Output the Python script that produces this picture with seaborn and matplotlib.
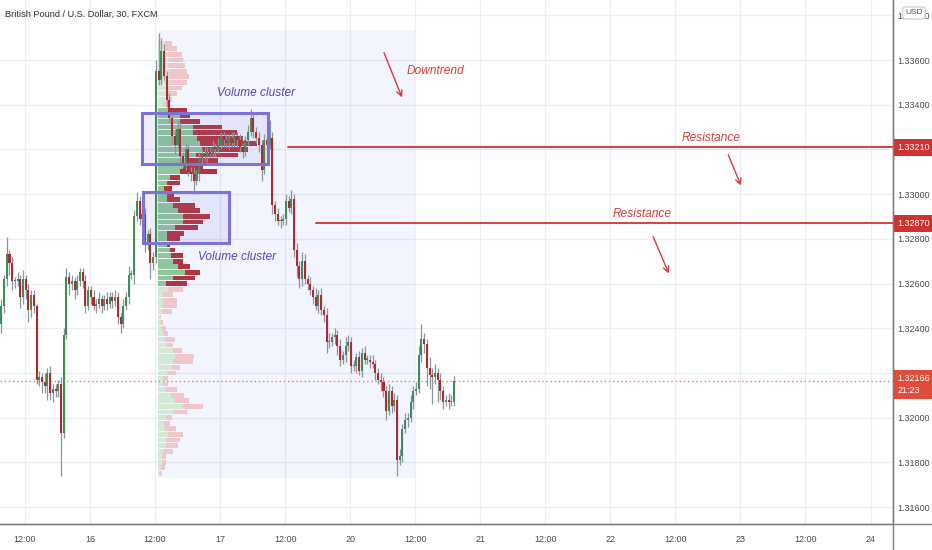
import numpy as np
import pandas as pd
import matplotlib
matplotlib.use("Agg")
import matplotlib.pyplot as plt
import matplotlib.transforms as mtransforms
from matplotlib import font_manager
from matplotlib.lines import Line2D
from matplotlib.patches import Rectangle
import seaborn as sns

TITLE = "British Pound / U.S. Dollar, 30, FXCM"
PIP = 0.0001

# 30 minute candles (open of each bar = previous close)
first_open = 1.3242
closes = [
    1.3250, 1.3262, 1.3273, 1.3269, 1.3261, 1.3261, 1.3262, 1.3254, 1.3262, 1.3257, 1.3248, 1.3255,
    1.3250, 1.3217, 1.3218, 1.3216, 1.3214, 1.3220, 1.3211, 1.3213, 1.3212, 1.3215, 1.3193, 1.3237,
    1.3263, 1.3260, 1.3261, 1.3257, 1.3261, 1.3265, 1.3261, 1.3250, 1.3257, 1.3254, 1.3250, 1.3251,
    1.3253, 1.3250, 1.3253, 1.3251, 1.3254, 1.3252, 1.3254, 1.3245, 1.3242, 1.3250, 1.3254, 1.3264,
    1.3264, 1.3290, 1.3297, 1.3289, 1.3291, 1.3278, 1.3282, 1.3269, 1.3272, 1.3355, 1.3351, 1.3364,
    1.3353, 1.3342, 1.3334, 1.3326, 1.3322, 1.3329, 1.3317, 1.3314, 1.3320, 1.3310, 1.3309, 1.3306,
    1.3309, 1.3316, 1.3318, 1.3317, 1.3319, 1.3318, 1.3321, 1.3320, 1.3322, 1.3326, 1.3324, 1.3323,
    1.3325, 1.3323, 1.3326, 1.3324, 1.3321, 1.3319, 1.3324, 1.3328, 1.3334, 1.3328, 1.3325, 1.3322,
    1.3311, 1.3324, 1.3322, 1.3325, 1.3295, 1.3291, 1.3288, 1.3288, 1.3289, 1.3297, 1.3294, 1.3298,
    1.3275, 1.3268, 1.3262, 1.3270, 1.3262, 1.3260, 1.3257, 1.3254, 1.3250, 1.3255, 1.3248, 1.3246,
    1.3234, 1.3234, 1.3236, 1.3237, 1.3232, 1.3226, 1.3228, 1.3232, 1.3234, 1.3223, 1.3223, 1.3227,
    1.3221, 1.3229, 1.3226, 1.3226, 1.3225, 1.3224, 1.3220, 1.3217, 1.3216, 1.3212, 1.3203, 1.3212,
    1.3205, 1.3208, 1.3181, 1.3183, 1.3195, 1.3199, 1.3200, 1.3207, 1.3212, 1.3213, 1.3228, 1.3235,
    1.3233, 1.3222, 1.3219, 1.3218, 1.3220, 1.3217, 1.3212, 1.3207, 1.3208, 1.3207, 1.3207, 1.32166,
]
# wick lengths in pips above / below the body
wick_up = [
    3, 2, 8, 2, 3, 2, 3, 2, 4, 2, 3, 2,
    2, 1, 3, 2, 4, 2, 3, 2, 2, 2, 3, 3,
    4, 2, 3, 2, 3, 2, 2, 3, 2, 2, 3, 2,
    3, 2, 2, 3, 2, 2, 3, 2, 2, 3, 2, 4,
    2, 3, 4, 2, 5, 3, 2, 3, 2, 5, 17, 6,
    3, 2, 3, 2, 3, 4, 3, 2, 3, 2, 2, 3,
    2, 3, 2, 3, 2, 2, 3, 2, 3, 2, 2, 3,
    2, 3, 2, 2, 3, 2, 2, 3, 4, 2, 2, 3,
    2, 3, 2, 8, 3, 2, 3, 2, 2, 3, 2, 4,
    2, 3, 2, 4, 3, 2, 3, 2, 4, 2, 3, 2,
    3, 4, 2, 3, 2, 3, 2, 4, 3, 2, 3, 2,
    3, 2, 3, 2, 2, 3, 2, 2, 3, 2, 2, 3,
    2, 3, 2, 3, 2, 3, 2, 3, 2, 3, 4, 7,
    3, 2, 5, 3, 4, 2, 3, 2, 2, 3, 3, 2,
]
wick_dn = [
    4, 3, 3, 5, 4, 3, 2, 5, 3, 4, 5, 3,
    3, 2, 3, 5, 3, 6, 3, 4, 3, 3, 19, 2,
    2, 5, 3, 4, 2, 2, 3, 3, 2, 3, 2, 3,
    2, 3, 2, 3, 2, 3, 2, 3, 4, 2, 2, 3,
    2, 4, 2, 3, 2, 4, 3, 7, 3, 3, 2, 2,
    2, 3, 2, 3, 4, 2, 3, 2, 3, 2, 3, 6,
    2, 3, 2, 2, 3, 2, 2, 3, 2, 2, 3, 2,
    3, 2, 2, 3, 2, 3, 2, 2, 2, 3, 2, 3,
    5, 2, 3, 2, 4, 3, 2, 3, 2, 3, 2, 3,
    3, 5, 4, 3, 2, 3, 2, 3, 2, 3, 2, 3,
    5, 3, 2, 3, 4, 3, 2, 3, 2, 3, 2, 3,
    2, 3, 2, 2, 3, 2, 3, 2, 4, 3, 4, 2,
    3, 2, 7, 2, 3, 2, 3, 2, 3, 2, 2, 3,
    4, 8, 6, 12, 3, 10, 4, 3, 2, 3, 2, 2,
]

# fixed range volume profile, top row first, one row every 0.00025
profile_top = 1.33675
profile_step = 0.00025
vol_up = [7, 8, 9, 10, 10, 11, 12, 11, 10, 9, 8, 5,
          12, 22, 22, 35, 35, 39, 42, 44, 38, 28, 25, 22,
          12, 9, 6, 9, 9, 15, 20, 25, 25, 17, 9, 9,
          9, 12, 13, 15, 20, 27, 15, 8, 10, 5, 5, 5,
          4, 2, 3, 4, 5, 7, 8, 15, 17, 15, 14, 9,
          5, 5, 8, 13, 17, 25, 15, 8, 6, 7, 10, 8,
          8, 5, 4, 4, 3, 2]
vol_down = [7, 11, 15, 15, 17, 18, 19, 18, 14, 10, 6, 4,
            17, 10, 20, 29, 44, 46, 57, 46, 42, 32, 20, 37,
            10, 13, 8, 7, 13, 22, 22, 27, 20, 23, 17, 13,
            3, 5, 12, 10, 12, 15, 22, 21, 15, 10, 14, 14,
            10, 1, 2, 4, 5, 10, 7, 9, 19, 20, 8, 9,
            5, 5, 11, 13, 14, 20, 14, 6, 6, 11, 15, 14,
            12, 10, 4, 4, 4, 2]
value_area = (1.32600, 1.33375)
profile_start = 57.8          # bar where the profile range starts
profile_end = 152.6
profile_range = (1.31730, 1.33734)

# drawings: (bar left, bar right, price low, price high)
clusters = [(51.9, 98.4, 1.33135, 1.33363), (52.3, 84.0, 1.32781, 1.33010)]
resistance = [1.33210, 1.32870]
resistance_start = [105.8, 116.1]
last_price = 1.32166
countdown = "21:23"

price_ticks = [1.316, 1.318, 1.320, 1.322, 1.324, 1.326, 1.328, 1.330, 1.332, 1.334, 1.336, 1.338]
time_labels = ["12:00", "16", "12:00", "17", "12:00", "20", "12:00", "21",
               "12:00", "22", "12:00", "23", "12:00", "24"]

RED = "#b0292f"
GREEN = "#3c8c5c"
WICK = "#8e949c"
ANNOT_RED = "#d63b3b"
PURPLE = "#7d72d8"
PURPLE_TXT = "#5646b8"

sns.set_theme(style="white")
avail = {f.name for f in font_manager.fontManager.ttflist}
NARROW = next((f for f in ["Liberation Sans Narrow", "DejaVu Sans Condensed", "Liberation Sans"]
               if f in avail), "DejaVu Sans")
plt.rcParams["font.family"] = [NARROW, "DejaVu Sans"]

# candle table
df = pd.DataFrame({"close": closes})
df["open"] = [first_open] + closes[:-1]
df["high"] = df[["open", "close"]].max(axis=1) + np.array(wick_up) * PIP
df["low"] = df[["open", "close"]].min(axis=1) - np.array(wick_dn) * PIP
df["bar"] = np.arange(len(df))
rising = df["close"] >= df["open"]

fig = plt.figure(figsize=(9.32, 5.5), dpi=100)
ax = fig.add_axes([0, 26 / 550, 893 / 932, 524 / 550])
ax.set_xlim(-0.5, 329.0)
ax.set_ylim(1.31524, 1.338685)

# grid
xt = [8.7 + 24 * i for i in range(len(time_labels))]
ax.set_xticks(xt)
ax.set_xticklabels(time_labels)
ax.yaxis.tick_right()
ax.set_yticks(price_ticks)
# the 1.33200 label sits under the resistance price tag, as on the chart
ax.set_yticklabels(["" if abs(p - 1.332) < 1e-9 else f"{p:.5f}" for p in price_ticks])
ax.grid(True, color="#eceef1", lw=0.9, zorder=0)
ax.tick_params(axis="both", length=0, labelsize=6.5, labelcolor="#4a4a4a")
ax.tick_params(axis="x", pad=8)
ax.tick_params(axis="y", pad=3)
for s in ["left", "top"]:
    ax.spines[s].set_visible(False)
for s in ["right", "bottom"]:
    ax.spines[s].set_color("#7b7e86")
    ax.spines[s].set_linewidth(1)

# profile range background
ax.add_patch(Rectangle((profile_start, profile_range[0]), profile_end - profile_start,
                       profile_range[1] - profile_range[0], color="#2962ff", alpha=0.06,
                       lw=0, zorder=1))

# volume profile rows
levels = profile_top - profile_step * np.arange(len(vol_up))
prof = pd.DataFrame({"level": levels, "up": vol_up, "down": vol_down})
prof["inside"] = (prof["level"] >= value_area[0] - 1e-9) & (prof["level"] <= value_area[1] + 1e-9)
px_per_bar = 2.71
up_w = prof["up"] / px_per_bar
dn_w = prof["down"] / px_per_bar
ax.barh(prof["level"], up_w, left=profile_start, height=profile_step * 0.86,
        color=np.where(prof["inside"], "#8dc79a", "#d2e9d6"), lw=0, zorder=2)
ax.barh(prof["level"], dn_w, left=profile_start + up_w, height=profile_step * 0.86,
        color=np.where(prof["inside"], "#b3343d", "#f1c6ca"), lw=0, zorder=2)

# volume cluster boxes
for x0, x1, y0, y1 in clusters:
    ax.add_patch(Rectangle((x0, y0), x1 - x0, y1 - y0, facecolor=PURPLE, alpha=0.12,
                           lw=0, zorder=3))
    ax.add_patch(Rectangle((x0, y0), x1 - x0, y1 - y0, facecolor="none", edgecolor=PURPLE,
                           lw=2.2, zorder=6))

# candles
ax.vlines(df["bar"], df["low"], df["high"], color=WICK, lw=0.9, zorder=4)
body = (df["close"] - df["open"]).abs().clip(lower=0.00005)
ax.bar(df["bar"], body, bottom=df[["open", "close"]].min(axis=1), width=0.75,
       color=np.where(rising, GREEN, RED), lw=0, zorder=5)

# current price and resistance lines
ax.axhline(last_price, color="#e67b7b", lw=1, ls=(0, (1, 2)), zorder=3)
for lvl, start in zip(resistance, resistance_start):
    ax.plot([start, 329.0], [lvl, lvl], color="#d8403c", lw=1.4, zorder=6)

# text notes
note = dict(style="italic", fontsize=8.6, va="center", zorder=7)
ax.text(94, 1.33452, "Volume cluster", color=PURPLE_TXT, ha="center", **note)
ax.text(87, 1.32719, "Volume cluster", color=PURPLE_TXT, ha="center", **note)
ax.text(149.7, 1.33551, "Downtrend", color=ANNOT_RED, ha="left", **note)
ax.text(261.9, 1.33251, "Resistance", color=ANNOT_RED, ha="center", **note)
ax.text(236.4, 1.32911, "Resistance", color=ANNOT_RED, ha="center", **note)
arrows = [((140.8, 1.33645), (148.2, 1.33421)),
          ((267.8, 1.33188), (273.3, 1.33027)),
          ((240.1, 1.32821), (246.7, 1.32633))]
for (xa, ya), (xb, yb) in arrows:
    ax.annotate("", xy=(xb, yb), xytext=(xa, ya),
                arrowprops=dict(arrowstyle="->", color=ANNOT_RED, lw=1, mutation_scale=10),
                zorder=7)

# price tags on the scale
trans = mtransforms.blended_transform_factory(ax.transAxes, ax.transData)
for lvl in resistance:
    ax.annotate(f"{lvl:.5f}", xy=(1, lvl), xycoords=trans, xytext=(3, 0),
                textcoords="offset points", ha="left", va="center", fontsize=6.5,
                color="white", annotation_clip=False, zorder=10,
                bbox=dict(boxstyle="square,pad=0.45", fc="#cf3230", ec="none"))
ax.annotate(f"{last_price:.5f}\n{countdown}", xy=(1, last_price), xycoords=trans,
            xytext=(3, 4.5), textcoords="offset points", ha="left", va="top",
            fontsize=6.5, color="white", annotation_clip=False, zorder=10, linespacing=1.35,
            bbox=dict(boxstyle="square,pad=0.45", fc="#df4c3c", ec="none"))

# frame lines extending under the price scale
fig.add_artist(Line2D([0, 1], [26 / 550, 26 / 550], color="#7b7e86", lw=1))
fig.add_artist(Line2D([893 / 932, 893 / 932], [0, 1], color="#7b7e86", lw=1))

fig.text(5 / 932, 1 - 14 / 550, TITLE, fontsize=6.6, color="#2f2f2f", va="center")
fig.text(914 / 932, 1 - 13 / 550, "USD", fontsize=6, color="#555", ha="center", va="center",
         bbox=dict(boxstyle="round,pad=0.3", fc="white", ec="#c8cbd0", lw=0.8))

fig.savefig("out.png", dpi=100)
